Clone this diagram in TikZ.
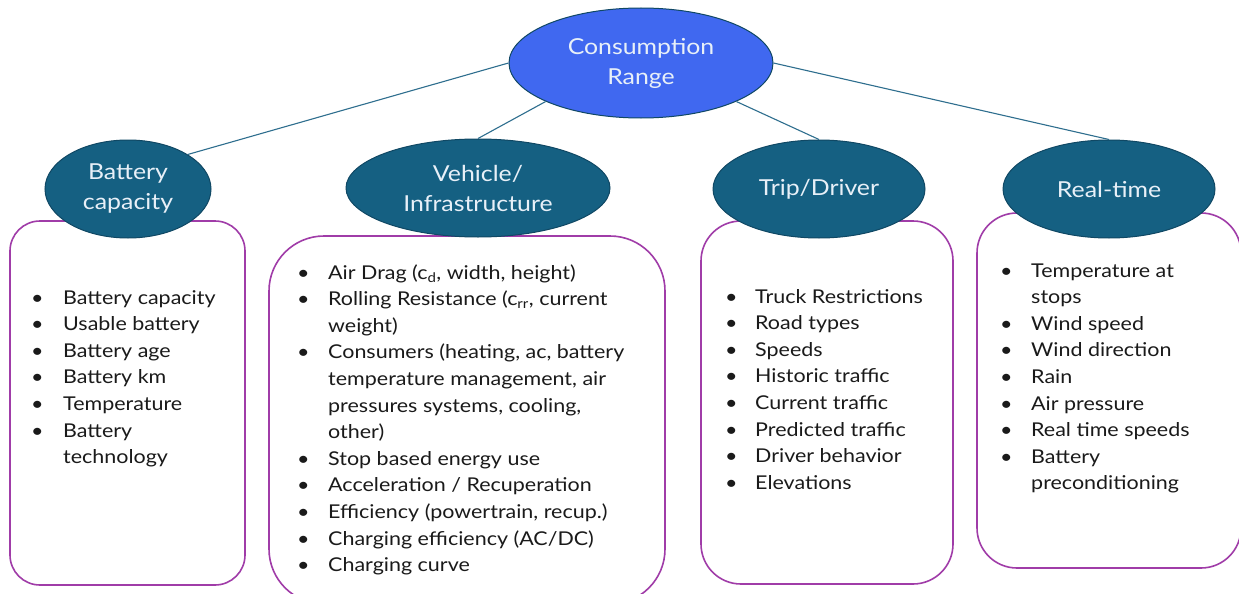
\documentclass[tikz,border=0pt]{standalone}
\usepackage{fontspec}
\setmainfont{Lato}[FakeStretch=1.13]
\usetikzlibrary{shapes.geometric}
\definecolor{topblue}{RGB}{64,104,240}
\definecolor{teal}{RGB}{21,96,130}
\definecolor{edgeteal}{RGB}{16,72,100}
\definecolor{linkc}{RGB}{46,110,142}
\definecolor{boxpurple}{RGB}{160,60,168}
\definecolor{labelc}{RGB}{232,240,248}
\definecolor{listc}{RGB}{26,26,26}
\tikzset{
  topell/.style={ellipse, draw=edgeteal, line width=1pt, fill=topblue, inner sep=0pt,
    minimum width=264pt, minimum height=110pt, text=labelc, align=center,
    font=\fontsize{22}{30}\selectfont},
  catell/.style={ellipse, draw=edgeteal, line width=1pt, fill=teal, inner sep=0pt,
    minimum height=98pt, text=labelc, align=center,
    font=\fontsize{22}{30}\selectfont},
  listbox/.style={draw=boxpurple, line width=1.6pt, fill=white},
  listtext/.style={inner sep=0pt, anchor=base west, text=listc,
    font=\fontsize{19}{26.6}\selectfont},
  link/.style={draw=linkc, line width=1.1pt}
}
\begin{document}
\begin{tikzpicture}[x=1pt,y=-1pt]
\useasboundingbox (0,0) rectangle (1239,594);
\fill[white] (0,0) rectangle (1239,594);
% boxes
\draw[listbox, rounded corners=30pt] (10,221) rectangle (245,585);
\draw[listbox, rounded corners=55pt] (269,236) rectangle (665,604);
\draw[listbox, rounded corners=40pt] (701,221) rectangle (953,584);
\draw[listbox, rounded corners=40pt] (977,213) rectangle (1241,568);
% ellipses
\node[topell] (top) at (641,63) {Consumption\\Range};
\node[catell, minimum width=166pt] (bc) at (128,189) {Battery\\capacity};
\node[catell, minimum width=264pt] (vi) at (478,188) {Vehicle/\\Infrastructure};
\node[catell, minimum width=212pt] (td) at (819,189) {Trip/Driver};
\node[catell, minimum width=212pt] (rt) at (1109,189) {Real-time};
% connectors
\draw[link] (top.west) -- (bc.30);
\draw[link] (top.202) -- (vi.north);
\draw[link] (top.338) -- (td.north);
\draw[link] (top.east) -- (rt.north);
% lists
\node[listtext] (l1) at (31,304) {\begin{tabular}[t]{@{}p{32pt}@{}l@{}}
• & Battery capacity\\
• & Usable battery\\
• & Battery age\\
• & Battery km\\
• & Temperature\\
• & Battery\\
  & technology
\end{tabular}};
\node[listtext] (l2) at (297,279) {\begin{tabular}[t]{@{}p{31pt}@{}l@{}}
• & Air Drag (c\textsubscript{d}, width, height)\\
• & Rolling Resistance (c\textsubscript{rr}, current\\
  & weight)\\
• & Consumers (heating, ac, battery\\
  & temperature management, air\\
  & pressures systems, cooling,\\
  & other)\\
• & Stop based energy use\\
• & Acceleration / Recuperation\\
• & Efficiency (powertrain, recup.)\\
• & Charging efficiency (AC/DC)\\
• & Charging curve
\end{tabular}};
\node[listtext] (l3) at (725,303) {\begin{tabular}[t]{@{}p{30pt}@{}l@{}}
• & Truck Restrictions\\
• & Road types\\
• & Speeds\\
• & Historic traffic\\
• & Current traffic\\
• & Predicted traffic\\
• & Driver behavior\\
• & Elevations
\end{tabular}};
\node[listtext] (l4) at (1000,277) {\begin{tabular}[t]{@{}p{31pt}@{}l@{}}
• & Temperature at\\
  & stops\\
• & Wind speed\\
• & Wind direction\\
• & Rain\\
• & Air pressure\\
• & Real time speeds\\
• & Battery\\
  & preconditioning
\end{tabular}};
\end{tikzpicture}
\end{document}
